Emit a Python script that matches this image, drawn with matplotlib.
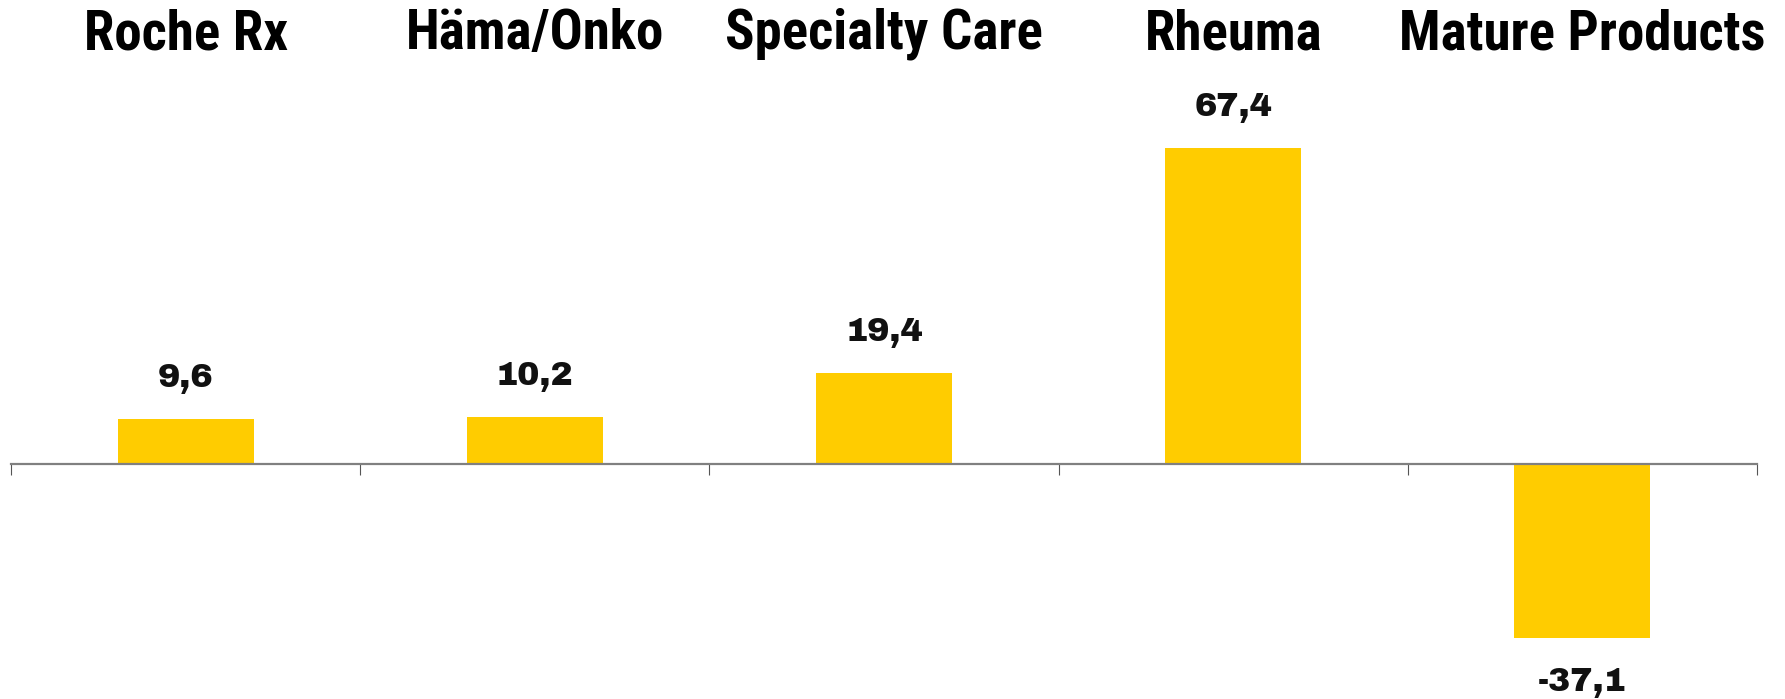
import matplotlib
matplotlib.use("Agg")
import matplotlib.pyplot as plt
import matplotlib.transforms as mtransforms

categories = ["Roche Rx", "Häma/Onko", "Specialty Care", "Rheuma", "Mature Products"]
values = [9.6, 10.2, 19.4, 67.4, -37.1]
value_labels = ["9,6", "10,2", "19,4", "67,4", "-37,1"]

W, H = 1785, 699
fig = plt.figure(figsize=(W / 100, H / 100), dpi=100)
ax = fig.add_axes([11 / W, 0, (1757 - 11) / W, 1])

x = list(range(len(categories)))
ax.bar(x, values, width=0.39, color="#FFCC00", zorder=2)

ax.set_xlim(-0.5, len(categories) - 0.5)
ax.set_ylim(-50, 99)

for s in ["top", "right", "left"]:
    ax.spines[s].set_visible(False)
ax.spines["bottom"].set_position(("data", 0))
ax.spines["bottom"].set_color("#808080")
ax.spines["bottom"].set_linewidth(1.6)
ax.spines["bottom"].set_zorder(3)
ax.set_yticks([])
ax.set_xticks([i - 0.5 for i in range(len(categories) + 1)])
ax.set_xticklabels([])
ax.tick_params(axis="x", direction="out", length=8, width=0.8, color="#555555")

for xi, v, lab in zip(x, values, value_labels):
    off = 23 if v >= 0 else -38
    ax.annotate(lab, (xi, v), xytext=(0, off), textcoords="offset points",
                ha="center", va="baseline", fontsize=24,
                family=["Archivo Black", "DejaVu Sans"], color="#111111")

trans = mtransforms.blended_transform_factory(ax.transData, ax.transAxes)
for xi, cat in zip(x, categories):
    ax.text(xi, 1 - 49 / H, cat, transform=trans, ha="center", va="baseline",
            fontsize=39.5, fontweight="bold",
            family=["Roboto Condensed", "Archivo Narrow", "Liberation Sans", "DejaVu Sans"],
            color="black")

fig.savefig("out.png", dpi=100)
